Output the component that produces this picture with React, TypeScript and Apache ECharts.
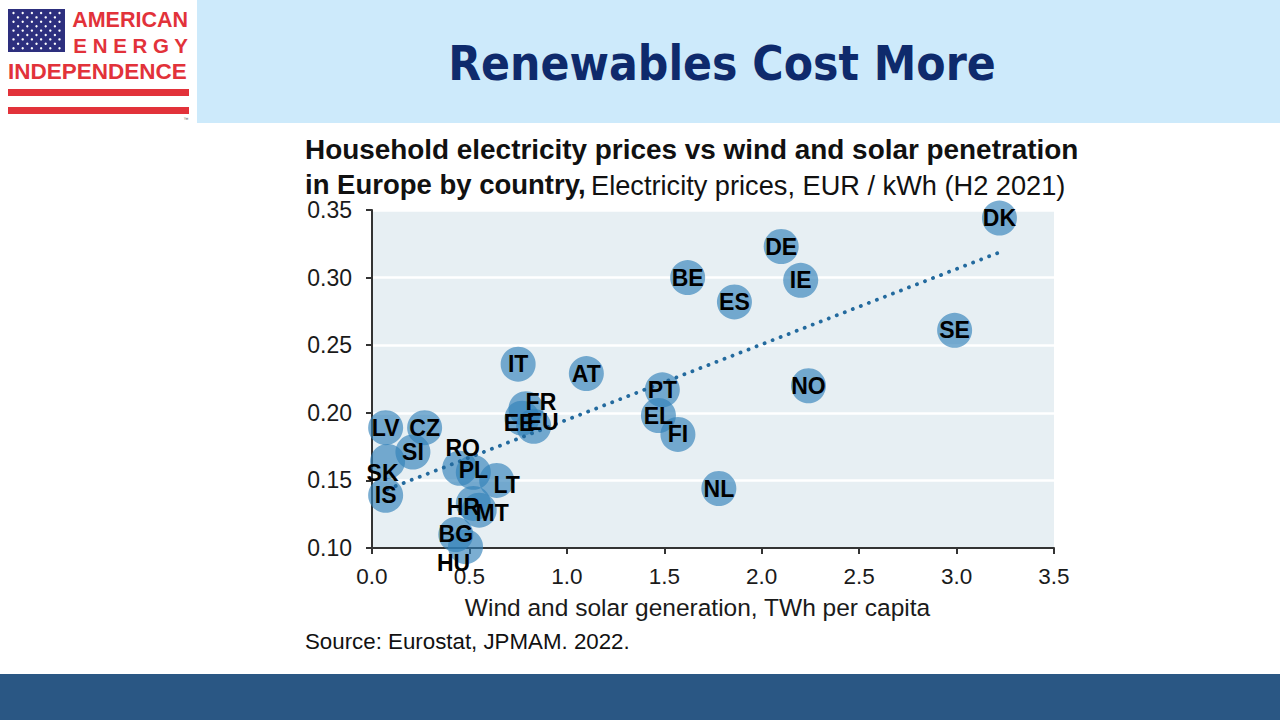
import React, { useEffect, useRef } from 'react';
import * as echarts from 'echarts';

// ---- Data ----
const countries = ['DK', 'DE', 'BE', 'IE', 'ES', 'SE', 'IT', 'AT', 'NO', 'PT', 'FR', 'EL', 'EE', 'EU', 'LV', 'CZ', 'FI', 'SI', 'SK', 'RO', 'PL', 'LT', 'NL', 'IS', 'HR', 'MT', 'BG', 'HU'];
const windSolar = [3.22, 2.10, 1.62, 2.20, 1.86, 2.99, 0.75, 1.10, 2.24, 1.49, 0.79, 1.47, 0.77, 0.83, 0.07, 0.27, 1.57, 0.21, 0.08, 0.45, 0.52, 0.64, 1.78, 0.07, 0.52, 0.55, 0.43, 0.48];
const prices = [0.344, 0.323, 0.300, 0.298, 0.282, 0.261, 0.236, 0.229, 0.220, 0.217, 0.203, 0.198, 0.196, 0.190, 0.189, 0.189, 0.184, 0.171, 0.164, 0.159, 0.156, 0.150, 0.144, 0.139, 0.133, 0.128, 0.110, 0.101];
const trendX = [0.08, 3.22];
const trendY = [0.1435, 0.3187];

const headline = 'Renewables Cost More';
const titleLine1 = 'Household electricity prices vs wind and solar penetration';
const titleLine2Bold = 'in Europe by country,';
const titleLine2Regular = 'Electricity prices, EUR / kWh (H2 2021)';
const xAxisTitle = 'Wind and solar generation, TWh per capita';
const sourceText = 'Source: Eurostat, JPMAM. 2022.';

// label nudges for crowded points (styling only)
const labelNudge: Record<string, [number, number]> = {
  SK: [-5, 12],
  HU: [-12, 16],
  RO: [3, -20],
  HR: [-10, 4],
  MT: [13, 3],
  LT: [10, 5],
  PL: [0, -2],
  FR: [15, -7],
  EE: [-3, 5],
  EU: [9, -4],
};

const SANS = "'Liberation Sans', Arial, Helvetica, sans-serif";
const RED = '#e2323a';

function logoElements() {
  const els: any[] = [];
  els.push({ type: 'rect', shape: { x: 0, y: 0, width: 197, height: 123 }, style: { fill: '#ffffff' } });
  els.push({ type: 'rect', shape: { x: 8, y: 9, width: 57, height: 43 }, style: { fill: '#2d2f7e' } });
  for (let r = 0; r < 9; r++) {
    const six = r % 2 === 0;
    const n = six ? 6 : 5;
    for (let c = 0; c < n; c++) {
      const cx = 13.5 + c * 9.2 + (six ? 0 : 4.6);
      const cy = 13 + r * 4.4;
      els.push({ type: 'circle', shape: { cx, cy, r: 1.2 }, style: { fill: '#ffffff' } });
    }
  }
  els.push({ type: 'text', x: 188, y: 20, style: { text: 'AMERICAN', fill: RED, fontFamily: SANS, fontWeight: 'bold', fontSize: 21.5, textAlign: 'right', textVerticalAlign: 'middle' } });
  els.push({ type: 'text', x: 188, y: 45, style: { text: 'E N E R G Y', fill: RED, fontFamily: SANS, fontWeight: 'bold', fontSize: 20.5, textAlign: 'right', textVerticalAlign: 'middle' } });
  els.push({ type: 'text', x: 8, y: 71, style: { text: 'INDEPENDENCE', fill: RED, fontFamily: SANS, fontWeight: 'bold', fontSize: 22.5, textAlign: 'left', textVerticalAlign: 'middle' } });
  els.push({ type: 'rect', shape: { x: 8, y: 89, width: 181, height: 7 }, style: { fill: RED } });
  els.push({ type: 'rect', shape: { x: 8, y: 107, width: 181, height: 7 }, style: { fill: RED } });
  els.push({ type: 'text', x: 186, y: 119, style: { text: '™', fill: '#555', fontFamily: SANS, fontSize: 5, textAlign: 'center', textVerticalAlign: 'middle' } });
  return els;
}

export default function App() {
  const ref = useRef<HTMLDivElement>(null);

  useEffect(() => {
    if (!ref.current) return;
    const chart = echarts.init(ref.current, undefined, { renderer: 'svg' });

    const pointData = countries.map((name, i) => ({ name, value: [windSolar[i], prices[i]] }));
    const labelData = countries.map((name, i) => {
      const nudge = labelNudge[name];
      return {
        name,
        value: [windSolar[i], prices[i]],
        label: nudge ? { offset: nudge } : undefined,
      };
    });
    const trendData = trendX.map((x, i) => [x, trendY[i]]);

    const graphics: any[] = [
      // header band
      { type: 'rect', shape: { x: 197, y: 0, width: 1083, height: 123 }, style: { fill: '#cdeafb' }, z: -10 },
      ...logoElements(),
      {
        type: 'text', x: 722, y: 63,
        style: { text: headline, fill: '#0e2a6c', fontFamily: "'DejaVu Sans Condensed', 'DejaVu Sans', Verdana, sans-serif", fontWeight: 'bold', fontSize: 47.5, textAlign: 'center', textVerticalAlign: 'middle' },
      },
      // footer band
      { type: 'rect', shape: { x: 0, y: 674, width: 1280, height: 46 }, style: { fill: '#2a5784' } },
      // chart titles
      { type: 'text', x: 305, y: 149, style: { text: titleLine1, fill: '#111', fontFamily: SANS, fontWeight: 'bold', fontSize: 27.9, textAlign: 'left', textVerticalAlign: 'middle' } },
      { type: 'text', x: 305, y: 184, style: { text: titleLine2Bold, fill: '#111', fontFamily: SANS, fontWeight: 'bold', fontSize: 27.5, textAlign: 'left', textVerticalAlign: 'middle' } },
      { type: 'text', x: 591, y: 185, style: { text: titleLine2Regular, fill: '#111', fontFamily: SANS, fontSize: 27.2, textAlign: 'left', textVerticalAlign: 'middle' } },
      { type: 'text', x: 305, y: 641, style: { text: sourceText, fill: '#111', fontFamily: SANS, fontSize: 22.3, textAlign: 'left', textVerticalAlign: 'middle' } },
    ];

    chart.setOption({
      animation: false,
      backgroundColor: '#ffffff',
      graphic: { elements: graphics },
      grid: {
        left: 372, top: 210, width: 682, height: 338,
        show: true, backgroundColor: '#e7eff3', borderWidth: 0,
        containLabel: false,
      },
      xAxis: {
        type: 'value', min: 0, max: 3.5, interval: 0.5,
        axisLine: { show: true, onZero: false, lineStyle: { color: '#333', width: 2 } },
        axisTick: { show: true, length: 6, lineStyle: { color: '#333', width: 2 } },
        splitLine: { show: false },
        axisLabel: { formatter: (v: number) => v.toFixed(1), fontSize: 22.5, color: '#1a1a1a', fontFamily: SANS, margin: 17 },
        name: xAxisTitle, nameLocation: 'middle', nameGap: 47,
        nameTextStyle: { fontSize: 24.5, color: '#1a1a1a', fontFamily: SANS, padding: [0, 31, 0, 0] },
      },
      yAxis: {
        type: 'value', min: 0.1, max: 0.35, interval: 0.05,
        axisLine: { show: true, onZero: false, lineStyle: { color: '#333', width: 2 } },
        axisTick: { show: true, length: 6, lineStyle: { color: '#333', width: 2 } },
        splitLine: { show: true, lineStyle: { color: '#ffffff', width: 2.5 } },
        axisLabel: { formatter: (v: number) => v.toFixed(2), fontSize: 23, color: '#1a1a1a', fontFamily: SANS, margin: 20 },
      },
      series: [
        {
          type: 'scatter',
          data: pointData,
          symbol: 'circle',
          symbolSize: 35,
          itemStyle: { color: 'rgba(48,128,184,0.8)' },
          label: { show: false },
          z: 2,
          silent: true,
        },
        {
          type: 'line',
          data: trendData,
          showSymbol: false,
          symbol: 'none',
          lineStyle: { color: '#236a9e', width: 3.8, type: [0.1, 8.5], cap: 'round' },
          z: 3,
          silent: true,
        },
        {
          type: 'scatter',
          data: labelData,
          symbol: 'circle',
          symbolSize: 1,
          itemStyle: { color: 'rgba(0,0,0,0)' },
          label: {
            show: true, position: 'inside', formatter: '{b}',
            fontFamily: SANS, fontWeight: 'bold', fontSize: 23, color: '#000000', opacity: 1,
          },
          z: 4,
          silent: true,
        },
      ],
    });

    return () => chart.dispose();
  }, []);

  return <div ref={ref} style={{ position: 'absolute', left: 0, top: 0, width: 1280, height: 720 }} />;
}
